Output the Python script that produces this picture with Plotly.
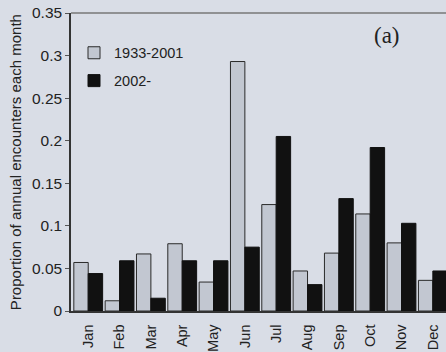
import plotly.graph_objects as go

months = ["Jan", "Feb", "Mar", "Apr", "May", "Jun", "Jul", "Aug", "Sep", "Oct", "Nov", "Dec"]
period_1933_2001 = [0.057, 0.012, 0.067, 0.079, 0.034, 0.293, 0.125, 0.047, 0.068, 0.114, 0.080, 0.036]
period_2002 = [0.044, 0.059, 0.015, 0.059, 0.059, 0.075, 0.205, 0.031, 0.132, 0.192, 0.103, 0.047]
y_ticks = [0, 0.05, 0.1, 0.15, 0.2, 0.25, 0.3, 0.35]
y_tick_labels = ["0", "0.05", "0.1", "0.15", "0.2", "0.25", "0.3", "0.35"]
y_title = "Proportion of annual encounters each month"

bg = "#d9dde6"
font = "Liberation Sans, Arial, sans-serif"

fig = go.Figure()
fig.add_trace(go.Bar(x=months, y=period_1933_2001, name="1933-2001", legendgroup="a",
                     marker=dict(color="#c2c7d1", line=dict(color="#2a2a2a", width=1))))
fig.add_trace(go.Bar(x=months, y=period_2002, name="2002-", legendgroup="b",
                     marker=dict(color="#111111", line=dict(color="#111111", width=1))))

fig.update_layout(
    width=446, height=352,
    margin=dict(l=71, r=0, t=13, b=41),
    paper_bgcolor=bg, plot_bgcolor=bg,
    barmode="group", bargap=0.08, bargroupgap=0,
    font=dict(family=font, size=14, color="#222222"),
    showlegend=True,
    legend=dict(x=0.008, y=0.92, xanchor="left", yanchor="top", bgcolor="rgba(0,0,0,0)",
                font=dict(size=14.5, color="#222222"), traceorder="grouped",
                tracegroupgap=6, itemwidth=30),
    xaxis=dict(range=[-0.55, 11.42], showline=True, linecolor="#333333", linewidth=1.5,
               tickangle=-90, ticks="outside", ticklen=6, tickcolor="rgba(0,0,0,0)",
               tickfont=dict(size=14.5), showgrid=False, zeroline=False, fixedrange=True),
    yaxis=dict(range=[0, 0.35], tickvals=y_ticks, ticktext=y_tick_labels, showline=True,
               linecolor="#333333", linewidth=1.5, ticks="outside", ticklen=4,
               tickcolor="#555555", showgrid=False, zeroline=False,
               tickfont=dict(size=15.5), ticklabeloverflow="allow"),
    shapes=[dict(type="line", xref="paper", yref="paper", x0=0, x1=1, y0=1, y1=1,
                 line=dict(color="#777777", width=1.5))],
    annotations=[
        dict(text="(a)", xref="paper", yref="paper", x=0.843, y=0.925,
             xanchor="center", yanchor="middle", showarrow=False,
             font=dict(family="Liberation Serif, Times New Roman, serif", size=23,
                       color="#222222")),
        dict(text=y_title, xref="paper", yref="paper", x=-0.149, y=0.5,
             xanchor="center", yanchor="middle", textangle=-90, showarrow=False,
             font=dict(size=15, color="#222222")),
    ],
)

fig.write_html("out.html", config={"displayModeBar": False},
               post_script="document.body.style.margin='0px';")
